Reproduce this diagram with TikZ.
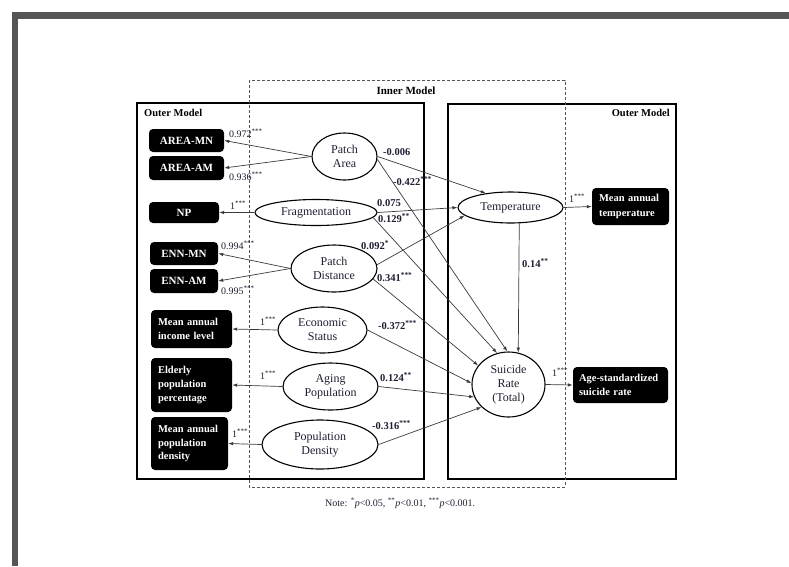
\documentclass[tikz,border=0pt]{standalone}
\usepackage{fontspec}
\setmainfont{Liberation Serif}
\usetikzlibrary{arrows.meta,shapes.geometric}
\definecolor{framegray}{HTML}{555555}
\definecolor{txt}{HTML}{1E1E32}
\definecolor{arr}{HTML}{3A3A3A}
\begin{document}
\begin{tikzpicture}[x=1pt,y=-1pt,
  lat/.style={ellipse, draw=black, line width=1.1pt, inner sep=0pt, align=center,
    font=\fontsize{12}{14}\selectfont, text=txt},
  ind/.style={rectangle, rounded corners=4pt, fill=black, text=white, inner sep=0pt,
    font=\bfseries\fontsize{11}{14}\selectfont},
  indl/.style={ind, align=left, inner xsep=7pt, font=\bfseries\fontsize{10.5}{14}\selectfont},
  pth/.style={-{Latex[length=5pt,width=3.5pt]}, draw=arr, line width=0.7pt},
  coef/.style={font=\fontsize{10}{12}\selectfont, text=txt, inner sep=0pt, anchor=west},
  bcoef/.style={coef, font=\bfseries\fontsize{10.5}{12}\selectfont},
  title/.style={font=\bfseries\fontsize{10.5}{12}\selectfont, text=black, inner sep=0pt}
]
\useasboundingbox (0,0) rectangle (789,566);
% frame
\fill[framegray] (12,12) rectangle (789,19);
\fill[framegray] (12,12) rectangle (18,566);

% containers
\draw[line width=1.8pt] (137,103) rectangle (424,479);
\draw[line width=1.8pt] (448,104) rectangle (676,479);
\draw[framegray, line width=0.9pt, dash pattern=on 3pt off 2pt] (249,80) rectangle (565,487);

\node[title, font=\bfseries\fontsize{11}{12}\selectfont] (innert) at (406,91) {Inner Model};
\node[title, anchor=west] (outl) at (144,113) {Outer Model};
\node[title, anchor=east] (outr) at (670,113) {Outer Model};

% latent variables
\node[lat, minimum width=65pt, minimum height=47pt] (pa) at (344.5,156.5) {Patch\\Area};
\node[lat, minimum width=122pt, minimum height=26pt] (frag) at (316,212.5) {Fragmentation};
\node[lat, minimum width=86pt, minimum height=47pt] (pd) at (334,268.5) {Patch\\Distance};
\node[lat, minimum width=89pt, minimum height=46pt] (econ) at (322.5,330) {Economic\\Status};
\node[lat, minimum width=95pt, minimum height=47pt] (aging) at (330.5,386.5) {Aging\\Population};
\node[lat, minimum width=116pt, minimum height=49pt] (pdens) at (320,444.5) {Population\\Density};
\node[lat, minimum width=105pt, minimum height=31pt] (temp) at (510.5,207.5) {Temperature};
\node[lat, minimum width=73pt, minimum height=65pt] (sr) at (508.5,384.5) {Suicide\\Rate\\(Total)};

% indicators
\node[ind, minimum width=75pt, minimum height=23pt] (amn) at (186.5,140.5) {AREA-MN};
\node[ind, minimum width=75pt, minimum height=24pt] (aam) at (186.5,168) {AREA-AM};
\node[ind, minimum width=70pt, minimum height=21pt] (np) at (184,212.5) {NP};
\node[ind, minimum width=68pt, minimum height=23pt] (ennmn) at (184,253.5) {ENN-MN};
\node[ind, minimum width=68pt, minimum height=24pt] (ennam) at (184,281) {ENN-AM};
\node[indl, text width=67pt, minimum height=38pt] (inc) at (191.5,329) {Mean annual\\income level};
\node[indl, text width=67pt, minimum height=54pt] (eld) at (191.5,385) {Elderly\\population\\percentage};
\node[indl, text width=63pt, minimum height=53pt, font=\bfseries\fontsize{10.5}{13.5}\selectfont] (dens) at (189.5,443.5) {Mean annual\\population\\density};
\node[indl, text width=63pt, minimum height=37pt, font=\bfseries\fontsize{10.5}{15}\selectfont] (tbox) at (630.5,206.5) {Mean annual\\temperature};
\node[indl, inner xsep=6pt, text width=83pt, minimum height=36pt] (abox) at (620.5,385) {Age-standardized\\suicide rate};

% measurement paths
\draw[pth] (pa.west) -- (amn.east);
\draw[pth] (pa.west) -- (aam.east);
\draw[pth] (frag.west) -- (np.east);
\draw[pth] (pd.west) -- (ennmn.east);
\draw[pth] (pd.west) -- (ennam.east);
\draw[pth] (econ.west) -- (inc.east);
\draw[pth] (aging.west) -- (eld.east);
\draw[pth] (pdens.west) -- (dens.east);
\draw[pth] (temp.east) -- (tbox.west);
\draw[pth] (sr.east) -- (abox.west);

% structural paths
\draw[pth] (pa.east) -- (temp.150);
\draw[pth] (pa.-5) -- (sr.92);
\draw[pth] (frag.east) -- (temp.west);
\draw[pth] (frag.-5) -- (sr.110);
\draw[pth] (pd.5) -- (temp.190);
\draw[pth] (pd.-15) -- (sr.148);
\draw[pth] (econ.east) -- (sr.178);
\draw[pth] (aging.east) -- (sr.200);
\draw[pth] (pdens.east) -- (sr.220);
\draw[pth] (temp.-61) -- (sr.73);

% loadings
\node[coef] (l1) at (229,133) {0.972\textsuperscript{***}};
\node[coef] (l2) at (229,176) {0.936\textsuperscript{***}};
\node[coef] (l3) at (230,205) {1\textsuperscript{***}};
\node[coef] (l4) at (221,245) {0.994\textsuperscript{***}};
\node[coef] (l5) at (221,290) {0.995\textsuperscript{***}};
\node[coef] (l6) at (260,321) {1\textsuperscript{***}};
\node[coef] (l7) at (260,375) {1\textsuperscript{***}};
\node[coef] (l8) at (232,433) {1\textsuperscript{***}};
\node[coef] (l9) at (569,198) {1\textsuperscript{***}};
\node[coef] (l10) at (552,372) {1\textsuperscript{***}};

% path coefficients
\node[bcoef] (c1) at (383,152) {-0.006};
\node[bcoef] (c2) at (393,181) {-0.422\textsuperscript{***}};
\node[bcoef] (c3) at (377,203) {0.075};
\node[bcoef] (c4) at (378,218) {0.129\textsuperscript{**}};
\node[bcoef] (c5) at (361,245) {0.092\textsuperscript{*}};
\node[bcoef] (c6) at (377,277) {0.341\textsuperscript{***}};
\node[bcoef] (c7) at (378,325) {-0.372\textsuperscript{***}};
\node[bcoef] (c8) at (380,377) {0.124\textsuperscript{**}};
\node[bcoef] (c9) at (372,425) {-0.316\textsuperscript{***}};
\node[bcoef] (c10) at (522,263) {0.14\textsuperscript{**}};

% note
\node[coef] (note) at (325,503) {Note: \textsuperscript{*}\textit{p}<0.05, \textsuperscript{**}\textit{p}<0.01, \textsuperscript{***}\textit{p}<0.001.};
\end{tikzpicture}
\end{document}
